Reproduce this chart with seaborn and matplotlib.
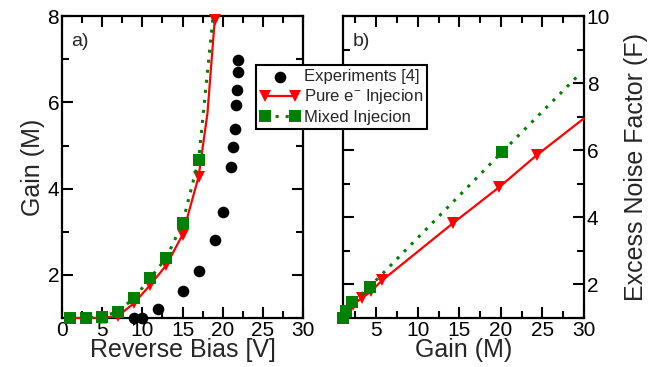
import matplotlib
matplotlib.use('Agg')
import matplotlib.pyplot as plt
import seaborn as sns
from matplotlib.ticker import MultipleLocator

# Datos panel a): ganancia vs polarizacion inversa
exp_bias = [9, 10, 12, 15, 17, 19, 20, 21, 21.3, 21.5, 21.6, 21.8, 21.9, 21.9]
exp_gain = [1.0, 1.0, 1.22, 1.63, 2.08, 2.81, 3.45, 4.5, 4.97, 5.38, 5.93, 6.29, 6.71, 6.98]

pure_bias = [1, 3, 5, 7, 9, 11, 13, 15, 17, 18.1, 19]
pure_gain = [1.0, 1.0, 1.0, 1.05, 1.35, 1.77, 2.23, 2.93, 4.28, 5.75, 7.9]

mixed_bias = [1, 3, 5, 7, 9, 11, 13, 15, 17, 18.8]
mixed_gain = [1.0, 1.0, 1.03, 1.15, 1.47, 1.93, 2.4, 3.2, 4.67, 8.0]

# Datos panel b): factor de ruido vs ganancia
pure_m = [1.0, 2.2, 3.3, 4.4, 5.7, 14.2, 19.8, 24.3, 30.0]
pure_f = [1.0, 1.4, 1.6, 1.8, 2.12, 3.82, 4.9, 5.85, 6.95]

mixed_m = [1.0, 1.3, 2.1, 4.2, 20.2, 29.6]
mixed_f = [1.0, 1.2, 1.47, 1.93, 5.96, 8.3]

sns.set_style('ticks')
plt.rcParams['font.family'] = ['Liberation Sans', 'DejaVu Sans']
plt.rcParams['mathtext.default'] = 'regular'

fig = plt.figure(figsize=(6.59, 3.67), dpi=100)
ax1 = fig.add_axes([0.094, 0.1335, 0.366, 0.8225])
ax2 = fig.add_axes([0.5205, 0.1335, 0.3655, 0.8225])

dot = (0, (1, 2.3))

# GRAFICA a)
sns.scatterplot(x=exp_bias, y=exp_gain, ax=ax1, color='black', s=70, marker='o',
                edgecolor='black', linewidth=0, clip_on=False, zorder=3, label='Experiments [4]')
sns.lineplot(x=pure_bias, y=pure_gain, ax=ax1, color='red', lw=1.6, marker='v', markersize=9,
             markeredgewidth=0, markevery=list(range(9)) + [10], sort=False, estimator=None,
             clip_on=False, zorder=4, label='Pure e$^{-}$ Injecion')
sns.lineplot(x=mixed_bias, y=mixed_gain, ax=ax1, color='green', lw=2.2, marker='s',
             markersize=8, markeredgewidth=0, markevery=list(range(9)), sort=False,
             estimator=None, clip_on=False, zorder=5, label='Mixed Injecion')
ax1.lines[-1].set_linestyle(dot)

ax1.set_xlim(0, 30)
ax1.set_ylim(1, 8)
ax1.xaxis.set_major_locator(MultipleLocator(5))
ax1.xaxis.set_minor_locator(MultipleLocator(2.5))
ax1.yaxis.set_major_locator(MultipleLocator(2))
ax1.yaxis.set_minor_locator(MultipleLocator(1))
ax1.set_xlabel('Reverse Bias [V]', fontsize=18, labelpad=-1)
ax1.set_ylabel('Gain (M)', fontsize=18, labelpad=2)
ax1.text(0.04, 0.9, 'a)', transform=ax1.transAxes, fontsize=14)
ax1.get_legend().remove()

# GRAFICA b)
sns.lineplot(x=pure_m, y=pure_f, ax=ax2, color='red', lw=1.6, marker='v', markersize=9,
             markeredgewidth=0, markevery=list(range(8)), sort=False, estimator=None,
             clip_on=False, zorder=4)
sns.lineplot(x=mixed_m, y=mixed_f, ax=ax2, color='green', lw=2.2, marker='s', markersize=8,
             markeredgewidth=0, markevery=list(range(5)), sort=False, estimator=None,
             clip_on=False, zorder=5)
ax2.lines[-1].set_linestyle(dot)

ax2.set_xlim(1, 30)
ax2.set_ylim(1, 10)
ax2.xaxis.set_major_locator(MultipleLocator(5))
ax2.xaxis.set_minor_locator(MultipleLocator(2.5))
ax2.yaxis.set_major_locator(MultipleLocator(2))
ax2.yaxis.set_minor_locator(MultipleLocator(1))
ax2.set_xlabel('Gain (M)', fontsize=18, labelpad=-1)
ax2.yaxis.set_label_position('right')
ax2.set_ylabel('Excess Noise Factor (F)', fontsize=18, labelpad=10)
ax2.text(0.04, 0.9, 'b)', transform=ax2.transAxes, fontsize=14)

for ax in (ax1, ax2):
    for sp in ax.spines.values():
        sp.set_visible(True)
        sp.set_linewidth(1.6)
        sp.set_color('black')
    ax.tick_params(which='both', direction='in', top=True, right=True, left=True, bottom=True,
                   colors='black', labelsize=15, pad=2)
    ax.tick_params(which='major', length=8, width=1.5)
    ax.tick_params(which='minor', length=5, width=1.5)
ax2.tick_params(axis='y', labelleft=False, labelright=True)

handles = [ax1.collections[0], ax1.lines[0], ax1.lines[1]]
labels = ['Experiments [4]', 'Pure e$^{-}$ Injecion', 'Mixed Injecion']
leg = fig.legend(handles, labels, loc='upper left', bbox_to_anchor=(256 / 659, 1 - 65 / 367),
                 fontsize=12, frameon=True, fancybox=False, edgecolor='black', framealpha=1,
                 borderpad=0.25, labelspacing=0.2, handlelength=2.4, handletextpad=0.2,
                 borderaxespad=0, numpoints=2, scatterpoints=1)
leg.get_frame().set_linewidth(1.5)

fig.savefig('out.png', dpi=100)
